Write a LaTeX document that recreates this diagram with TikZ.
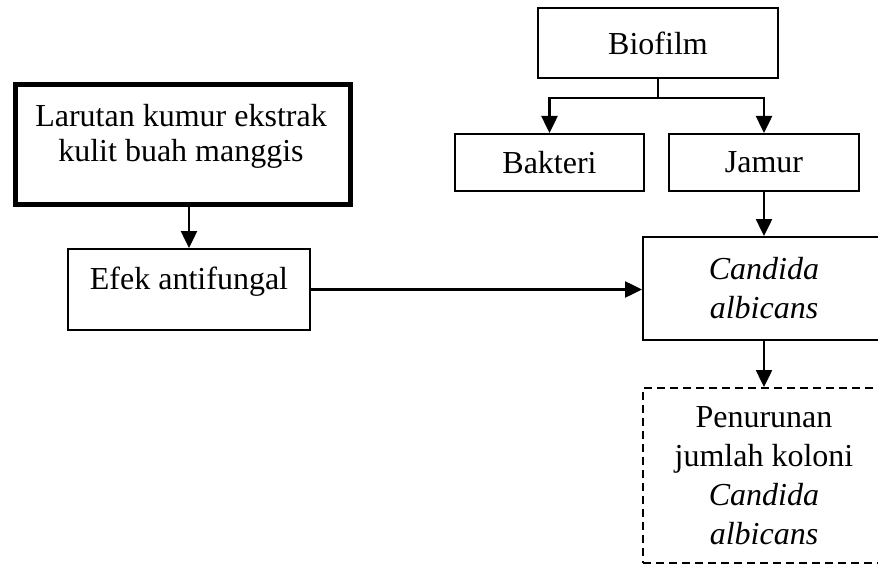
\documentclass[tikz,border=0pt]{standalone}
\usepackage{fontspec}
\setmainfont{Liberation Serif}
\usetikzlibrary{arrows.meta}
\begin{document}
\begin{tikzpicture}[x=0.5pt,y=-0.5pt,
  box/.style={draw, line width=1pt, inner sep=0pt, font=\fontsize{16}{19.5}\selectfont, align=center},
  txt/.style={inner sep=0pt, align=center},
  arr/.style={line width=1.25pt, -{Triangle[width=8pt,length=8.5pt]}}]
\clip (0,0) rectangle (878,567);
\node[box, minimum width=120pt, minimum height=35pt] (bio) at (658,43){Biofilm};
\node[box, minimum width=94.5pt, minimum height=28.5pt] (bak) at (549.5,162.5){Bakteri};
\node[box, minimum width=95pt, minimum height=28.5pt] (jam) at (764,162.5){Jamur};
\node[box, line width=2.5pt, minimum width=167.5pt, minimum height=60pt] (lar) at (183,144.5){};
\node[txt, font=\fontsize{16}{17.5}\selectfont] (lartxt) at (181,136){Larutan kumur ekstrak\\kulit buah manggis};
\node[box, minimum width=121pt, minimum height=40.5pt] (efek) at (189,289.5){};
\node[txt, font=\fontsize{16}{19.5}\selectfont] (efektxt) at (189,282){Efek antifungal};
\node[box, minimum width=121pt, minimum height=51.5pt] (cand) at (764,288.5){\textit{Candida}\\\textit{albicans}};
\node[box, dash pattern=on 4pt off 2.5pt, minimum width=121pt, minimum height=87.5pt] (turun) at (764,475.5){Penurunan\\jumlah koloni\\\textit{Candida}\\\textit{albicans}};
\draw[line width=1.25pt] (bio.south) -- ++(0,19) coordinate (cab);
\draw[arr] (cab) -| (bak.north);
\draw[arr] (cab) -| (jam.north);
\draw[arr] (jam.south) -- (cand.north);
\draw[arr] (efek.north |- lar.south) -- (efek.north);
\draw[arr] (efek.east) -- (efek.east -| cand.west);
\draw[arr] (cand.south) -- (turun.north);
\end{tikzpicture}
\end{document}
